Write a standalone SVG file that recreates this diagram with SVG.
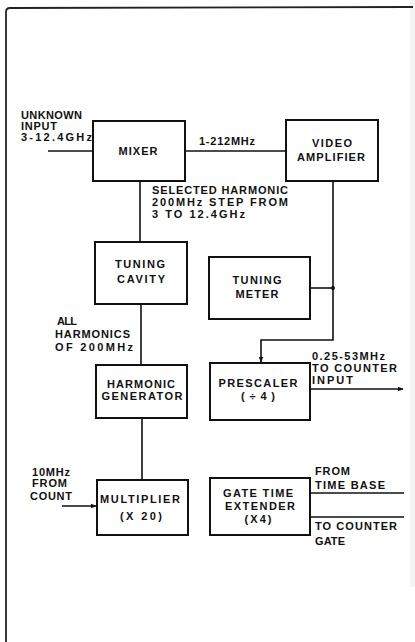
<svg xmlns="http://www.w3.org/2000/svg" width="415" height="642" viewBox="0 0 415 642">
<style>
  .box { fill: #fff; stroke: #111; stroke-width: 2; }
  .ln { fill: none; stroke: #111; stroke-width: 1.6; }
  text { font-family: "Liberation Sans", Arial, sans-serif; font-weight: bold; font-size: 11px; fill: #111; }
  .c { text-anchor: middle; }
</style>
<defs>
  <marker id="arr" viewBox="0 0 10 10" refX="9" refY="5" markerWidth="6" markerHeight="6" orient="auto" markerUnits="userSpaceOnUse">
    <path d="M0,1 L10,5 L0,9 Z" fill="#111"/>
  </marker>
</defs>
<rect width="415" height="642" fill="#fff"/>
<rect x="410" y="0" width="5" height="587" fill="#f3f3f3"/>
<g id="frame">
  <path d="M6,642 L6,12 Q6,8 10,8 L413,7" fill="none" stroke="#222" stroke-width="1.8"/>
</g>
<g id="connectors">
  <line class="ln" x1="48" y1="151" x2="93" y2="151"/>
  <line class="ln" x1="185" y1="151" x2="286" y2="151"/>
  <line class="ln" x1="140" y1="181" x2="140" y2="242"/>
  <line class="ln" x1="141" y1="304" x2="141" y2="365"/>
  <line class="ln" x1="142" y1="418" x2="142" y2="480"/>
  <polyline class="ln" points="333,181 333,340 261,340 261,362" marker-end="url(#arr)"/>
  <line class="ln" x1="333" y1="288" x2="310" y2="288"/>
  <circle cx="333" cy="288" r="2" fill="#111"/>
  <line class="ln" x1="310" y1="389" x2="403" y2="389" marker-end="url(#arr)"/>
  <line class="ln" x1="62" y1="506" x2="96" y2="506" marker-end="url(#arr)"/>
  <line class="ln" x1="310" y1="493" x2="404" y2="493"/>
  <line class="ln" x1="310" y1="517" x2="404" y2="517"/>
</g>
<g id="mixer">
  <rect class="box" x="93" y="121" width="92" height="60"/>
  <text class="c" x="138" y="155" textLength="39">MIXER</text>
</g>
<g id="video-amplifier">
  <rect class="box" x="286" y="120" width="92" height="61"/>
  <text class="c" x="332" y="147" textLength="40">VIDEO</text>
  <text class="c" x="331" y="161" textLength="68">AMPLIFIER</text>
</g>
<g id="tuning-cavity">
  <rect class="box" x="95" y="242" width="92" height="62"/>
  <text class="c" x="140" y="268" textLength="50">TUNING</text>
  <text class="c" x="141" y="283" textLength="48">CAVITY</text>
</g>
<g id="harmonic-generator">
  <rect class="box" x="96" y="365" width="91" height="53"/>
  <text class="c" x="141" y="388" textLength="68">HARMONIC</text>
  <text class="c" x="142" y="400" textLength="81">GENERATOR</text>
</g>
<g id="tuning-meter">
  <rect class="box" x="209" y="257" width="101" height="62"/>
  <text class="c" x="257" y="284" textLength="49">TUNING</text>
  <text class="c" x="257" y="298" textLength="43">METER</text>
</g>
<g id="prescaler">
  <rect class="box" x="210" y="363" width="100" height="57"/>
  <text class="c" x="258" y="387" textLength="79">PRESCALER</text>
  <text class="c" x="258" y="400" textLength="34">(÷4)</text>
</g>
<g id="multiplier">
  <rect class="box" x="97" y="480" width="91" height="55"/>
  <text class="c" x="140" y="503" textLength="80">MULTIPLIER</text>
  <text class="c" x="141" y="520" textLength="42">(X 20)</text>
</g>
<g id="gate-time-extender">
  <rect class="box" x="210" y="478" width="100" height="57"/>
  <text class="c" x="258" y="497" textLength="70">GATE TIME</text>
  <text class="c" x="260" y="510" textLength="70">EXTENDER</text>
  <text class="c" x="258" y="523" textLength="27">(X4)</text>
</g>
<g id="labels">
  <text x="21" y="119" textLength="61">UNKNOWN</text>
  <text x="21" y="130" textLength="36">INPUT</text>
  <text x="21" y="141" textLength="71">3-12.4GHz</text>
  <text x="199" y="145" textLength="56">1-212MHz</text>
  <text x="152" y="194" textLength="136">SELECTED HARMONIC</text>
  <text x="152" y="206" textLength="136">200MHz STEP FROM</text>
  <text x="152" y="218" textLength="93">3 TO 12.4GHz</text>
  <text x="57" y="325" textLength="20">ALL</text>
  <text x="55" y="338" textLength="75">HARMONICS</text>
  <text x="55" y="351" textLength="78">OF 200MHz</text>
  <text x="312" y="360" textLength="73">0.25-53MHz</text>
  <text x="312" y="372" textLength="85">TO COUNTER</text>
  <text x="312" y="384" textLength="41">INPUT</text>
  <text x="32" y="476" textLength="38">10MHz</text>
  <text x="32" y="487" textLength="35">FROM</text>
  <text x="30" y="500" textLength="42">COUNT</text>
  <text x="315" y="475" textLength="35">FROM</text>
  <text x="315" y="489" textLength="70">TIME BASE</text>
  <text x="315" y="530" textLength="82">TO COUNTER</text>
  <text x="315" y="545" textLength="30">GATE</text>
</g>
</svg>
